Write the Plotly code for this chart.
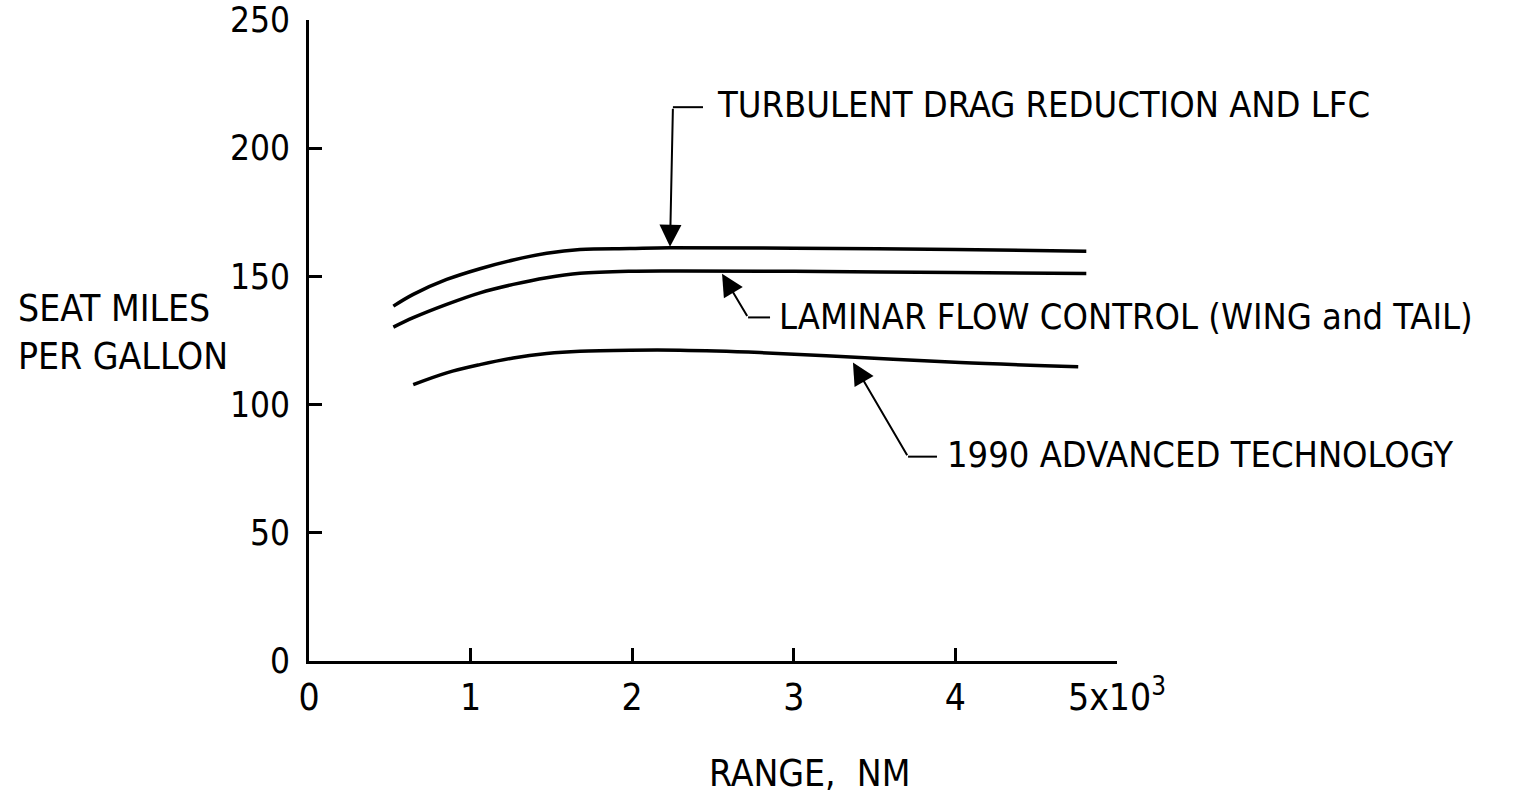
import plotly.graph_objects as go

# range in thousands of NM, seat miles per gallon
top_x = [0.522, 0.645, 0.852, 1.058, 1.264, 1.471, 1.677, 1.986, 2.234, 3.0, 4.0, 4.81]
top_y = [138.4, 143.0, 148.8, 153.0, 156.4, 159.0, 160.5, 160.9, 161.2, 161.0, 160.5, 159.8]

mid_x = [0.522, 0.645, 0.852, 1.058, 1.264, 1.471, 1.677, 1.986, 2.296, 3.0, 4.0, 4.81]
mid_y = [130.2, 133.9, 139.1, 143.6, 146.9, 149.5, 151.2, 152.0, 152.1, 152.0, 151.5, 151.1]

low_x = [0.645, 0.852, 1.058, 1.264, 1.471, 1.677, 1.986, 2.296, 2.79, 3.41, 4.03, 4.76]
low_y = [107.8, 112.4, 115.6, 118.2, 119.9, 120.8, 121.2, 121.2, 120.3, 118.4, 116.4, 114.8]

x_ticks = [0, 1, 2, 3, 4, 5]
x_labels = ["0", "1", "2", "3", "4", "5x10<sup>3</sup>"]
y_ticks = [0, 50, 100, 150, 200, 250]

names = ["TURBULENT DRAG REDUCTION AND LFC",
         "LAMINAR FLOW CONTROL (WING and TAIL)",
         "1990 ADVANCED TECHNOLOGY"]

FONT = "Liberation Sans Narrow, DejaVu Sans Condensed, Roboto Condensed, Liberation Sans, sans-serif"

fig = go.Figure()
for xs, ys, nm in [(top_x, top_y, names[0]), (mid_x, mid_y, names[1]), (low_x, low_y, names[2])]:
    fig.add_trace(go.Scatter(x=xs, y=ys, mode="lines", name=nm,
                             line=dict(color="black", width=3.5, shape="spline", smoothing=1.0)))

# label leaders: (tip x, tip y, corner x, corner y, end of horizontal, text x, text y)
leaders = [
    (2.234, 161.6, 2.252, 216.0, 2.438, 2.512, 217.2),
    (2.556, 151.0, 2.717, 134.0, 2.853, 2.896, 134.4),
    (3.366, 116.4, 3.707, 79.7, 3.886, 3.936, 80.5),
]
for (tx, ty, cx, cy, hx, lx, ly), nm in zip(leaders, names):
    fig.add_annotation(x=tx, y=ty, ax=cx, ay=cy, axref="x", ayref="y", xref="x", yref="y",
                       showarrow=True, arrowhead=2, arrowsize=2.2, arrowwidth=2,
                       arrowcolor="black", text="")
    fig.add_shape(type="line", x0=cx, y0=cy, x1=hx, y1=cy, xref="x", yref="y",
                  line=dict(color="black", width=2))
    fig.add_annotation(x=lx, y=ly, xref="x", yref="y", text=nm, showarrow=False,
                       xanchor="left", yanchor="middle",
                       font=dict(family=FONT, size=36, color="black"))

fig.add_annotation(x=-0.3626, y=0.512, xref="paper", yref="paper",
                   text="SEAT MILES<br>PER GALLON", showarrow=False,
                   xanchor="left", yanchor="middle", align="left",
                   font=dict(family=FONT, size=37, color="black"))
fig.add_annotation(x=3.10, y=-0.175, xref="x", yref="paper",
                   text="RANGE,  NM", showarrow=False,
                   xanchor="center", yanchor="middle",
                   font=dict(family=FONT, size=37, color="black"))

fig.update_xaxes(range=[0, 5], tickvals=x_ticks, ticktext=x_labels,
                 showgrid=False, zeroline=False, showline=True, linecolor="black", linewidth=3,
                 ticks="inside", ticklen=13, tickwidth=3, tickcolor="black",
                 ticklabelstandoff=2, ticklabeloverflow="allow", automargin=False,
                 tickfont=dict(family=FONT, size=37, color="black"))
fig.update_yaxes(range=[0, 250], tickvals=y_ticks,
                 showgrid=False, zeroline=False, showline=True, linecolor="black", linewidth=3,
                 ticks="inside", ticklen=13, tickwidth=3, tickcolor="black",
                 ticklabelstandoff=9, ticklabeloverflow="allow", automargin=False,
                 tickfont=dict(family=FONT, size=35, color="black"))

fig.update_layout(width=1514, height=807, showlegend=False,
                  plot_bgcolor="white", paper_bgcolor="white",
                  margin=dict(l=309, r=397, t=20, b=146, autoexpand=False))

# drop the default 8px body margin so the figure sits at the page corner
fig.write_html("out.html", config={"displayModeBar": False},
               post_script="document.body.style.margin='0';")
